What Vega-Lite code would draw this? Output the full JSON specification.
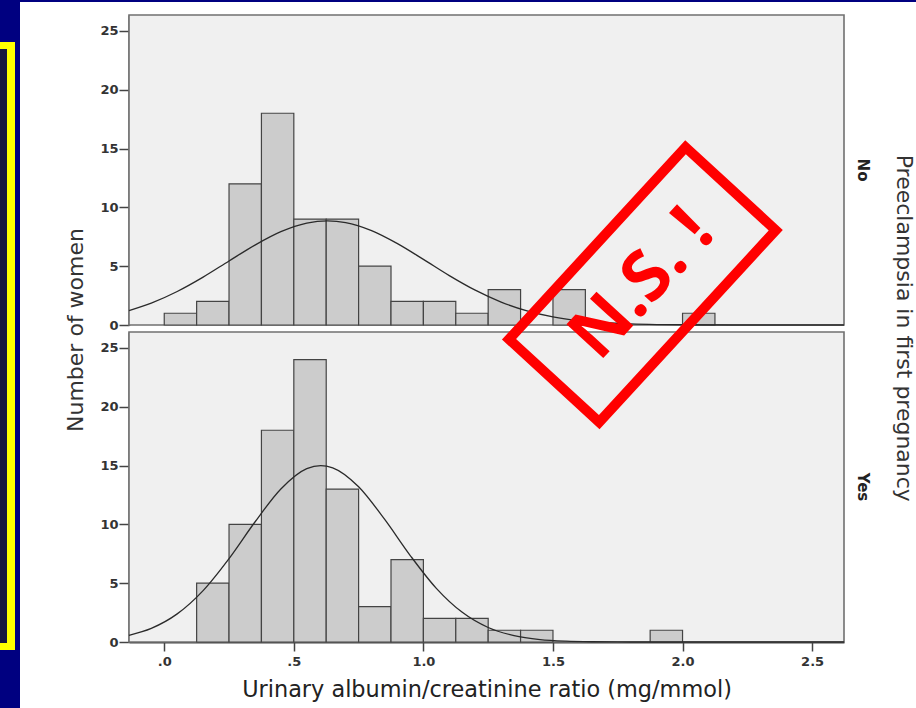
{
  "$schema": "https://vega.github.io/schema/vega-lite/v6.json",
  "padding": 0,
  "background": "#ffffff",
  "config": {
    "view": {"fill": "#f0f0f0", "stroke": "#707070", "strokeWidth": 1.6},
    "concat": {"spacing": 0}
  },
  "datasets": {
    "blank": [],
    "hist": [
      {"panel": "No", "kind": "bar", "x": 0, "x2": 0.125, "y": 1},
      {"panel": "No", "kind": "bar", "x": 0.125, "x2": 0.25, "y": 2},
      {"panel": "No", "kind": "bar", "x": 0.25, "x2": 0.375, "y": 12},
      {"panel": "No", "kind": "bar", "x": 0.375, "x2": 0.5, "y": 18},
      {"panel": "No", "kind": "bar", "x": 0.5, "x2": 0.625, "y": 9},
      {"panel": "No", "kind": "bar", "x": 0.625, "x2": 0.75, "y": 9},
      {"panel": "No", "kind": "bar", "x": 0.75, "x2": 0.875, "y": 5},
      {"panel": "No", "kind": "bar", "x": 0.875, "x2": 1.0, "y": 2},
      {"panel": "No", "kind": "bar", "x": 1.0, "x2": 1.125, "y": 2},
      {"panel": "No", "kind": "bar", "x": 1.125, "x2": 1.25, "y": 1},
      {"panel": "No", "kind": "bar", "x": 1.25, "x2": 1.375, "y": 3},
      {"panel": "No", "kind": "bar", "x": 1.5, "x2": 1.625, "y": 3},
      {"panel": "No", "kind": "bar", "x": 2.0, "x2": 2.125, "y": 1},
      {"panel": "Yes", "kind": "bar", "x": 0.125, "x2": 0.25, "y": 5},
      {"panel": "Yes", "kind": "bar", "x": 0.25, "x2": 0.375, "y": 10},
      {"panel": "Yes", "kind": "bar", "x": 0.375, "x2": 0.5, "y": 18},
      {"panel": "Yes", "kind": "bar", "x": 0.5, "x2": 0.625, "y": 24},
      {"panel": "Yes", "kind": "bar", "x": 0.625, "x2": 0.75, "y": 13},
      {"panel": "Yes", "kind": "bar", "x": 0.75, "x2": 0.875, "y": 3},
      {"panel": "Yes", "kind": "bar", "x": 0.875, "x2": 1.0, "y": 7},
      {"panel": "Yes", "kind": "bar", "x": 1.0, "x2": 1.125, "y": 2},
      {"panel": "Yes", "kind": "bar", "x": 1.125, "x2": 1.25, "y": 2},
      {"panel": "Yes", "kind": "bar", "x": 1.25, "x2": 1.375, "y": 1},
      {"panel": "Yes", "kind": "bar", "x": 1.375, "x2": 1.5, "y": 1},
      {"panel": "Yes", "kind": "bar", "x": 1.875, "x2": 2.0, "y": 1},
      {"panel": "No", "kind": "curve", "x": -0.136, "y": 1.22},
      {"panel": "No", "kind": "curve", "x": -0.05, "y": 1.86},
      {"panel": "No", "kind": "curve", "x": 0.05, "y": 2.85},
      {"panel": "No", "kind": "curve", "x": 0.15, "y": 4.07},
      {"panel": "No", "kind": "curve", "x": 0.25, "y": 5.44},
      {"panel": "No", "kind": "curve", "x": 0.35, "y": 6.79},
      {"panel": "No", "kind": "curve", "x": 0.45, "y": 7.93},
      {"panel": "No", "kind": "curve", "x": 0.55, "y": 8.66},
      {"panel": "No", "kind": "curve", "x": 0.63, "y": 8.85},
      {"panel": "No", "kind": "curve", "x": 0.7, "y": 8.71},
      {"panel": "No", "kind": "curve", "x": 0.8, "y": 8.03},
      {"panel": "No", "kind": "curve", "x": 0.9, "y": 6.92},
      {"panel": "No", "kind": "curve", "x": 1.0, "y": 5.58},
      {"panel": "No", "kind": "curve", "x": 1.1, "y": 4.2},
      {"panel": "No", "kind": "curve", "x": 1.2, "y": 2.96},
      {"panel": "No", "kind": "curve", "x": 1.3, "y": 1.95},
      {"panel": "No", "kind": "curve", "x": 1.4, "y": 1.2},
      {"panel": "No", "kind": "curve", "x": 1.5, "y": 0.69},
      {"panel": "No", "kind": "curve", "x": 1.6, "y": 0.37},
      {"panel": "No", "kind": "curve", "x": 1.7, "y": 0.19},
      {"panel": "No", "kind": "curve", "x": 1.8, "y": 0.09},
      {"panel": "No", "kind": "curve", "x": 1.9, "y": 0.04},
      {"panel": "No", "kind": "curve", "x": 2.0, "y": 0.02},
      {"panel": "No", "kind": "curve", "x": 2.2, "y": 0.0},
      {"panel": "No", "kind": "curve", "x": 2.623, "y": 0.0},
      {"panel": "Yes", "kind": "curve", "x": -0.136, "y": 0.57},
      {"panel": "Yes", "kind": "curve", "x": -0.05, "y": 1.16},
      {"panel": "Yes", "kind": "curve", "x": 0.05, "y": 2.39},
      {"panel": "Yes", "kind": "curve", "x": 0.15, "y": 4.37},
      {"panel": "Yes", "kind": "curve", "x": 0.25, "y": 7.09},
      {"panel": "Yes", "kind": "curve", "x": 0.35, "y": 10.2},
      {"panel": "Yes", "kind": "curve", "x": 0.45, "y": 13.01},
      {"panel": "Yes", "kind": "curve", "x": 0.55, "y": 14.74},
      {"panel": "Yes", "kind": "curve", "x": 0.604, "y": 15.0},
      {"panel": "Yes", "kind": "curve", "x": 0.65, "y": 14.81},
      {"panel": "Yes", "kind": "curve", "x": 0.75, "y": 13.2},
      {"panel": "Yes", "kind": "curve", "x": 0.85, "y": 10.44},
      {"panel": "Yes", "kind": "curve", "x": 0.95, "y": 7.33},
      {"panel": "Yes", "kind": "curve", "x": 1.05, "y": 4.56},
      {"panel": "Yes", "kind": "curve", "x": 1.15, "y": 2.52},
      {"panel": "Yes", "kind": "curve", "x": 1.25, "y": 1.23},
      {"panel": "Yes", "kind": "curve", "x": 1.35, "y": 0.54},
      {"panel": "Yes", "kind": "curve", "x": 1.45, "y": 0.21},
      {"panel": "Yes", "kind": "curve", "x": 1.55, "y": 0.07},
      {"panel": "Yes", "kind": "curve", "x": 1.65, "y": 0.02},
      {"panel": "Yes", "kind": "curve", "x": 1.8, "y": 0.0},
      {"panel": "Yes", "kind": "curve", "x": 2.623, "y": 0.0},
      {"panel": "Yes", "kind": "stamp", "x": 1.845, "y": 30.37, "label": "N.S. !"}
    ]
  },
  "vconcat": [
    {"width": 916, "height": 2, "data": {"name": "blank"}, "mark": "point", "view": {"fill": "#000080", "stroke": null}},
    {
      "hconcat": [
        {
          "vconcat": [
            {"width": 20, "height": 40, "data": {"name": "blank"}, "mark": "point", "view": {"fill": "#000080", "stroke": null}},
            {"hconcat": [
              {"width": 15, "height": 7, "data": {"name": "blank"}, "mark": "point", "view": {"fill": "#ffff00", "stroke": null}},
              {"width": 5, "height": 7, "data": {"name": "blank"}, "mark": "point", "view": {"fill": "#000080", "stroke": null}}
            ], "spacing": 0},
            {"hconcat": [
              {"width": 7, "height": 594, "data": {"name": "blank"}, "mark": "point", "view": {"fill": "#16163e", "stroke": null}},
              {"width": 8, "height": 594, "data": {"name": "blank"}, "mark": "point", "view": {"fill": "#ffff00", "stroke": null}},
              {"width": 5, "height": 594, "data": {"name": "blank"}, "mark": "point", "view": {"fill": "#000080", "stroke": null}}
            ], "spacing": 0},
            {"hconcat": [
              {"width": 15, "height": 7, "data": {"name": "blank"}, "mark": "point", "view": {"fill": "#ffff00", "stroke": null}},
              {"width": 5, "height": 7, "data": {"name": "blank"}, "mark": "point", "view": {"fill": "#000080", "stroke": null}}
            ], "spacing": 0},
            {"width": 20, "height": 58, "data": {"name": "blank"}, "mark": "point", "view": {"fill": "#000080", "stroke": null}}
          ],
          "spacing": 0
        },
        {
          "vconcat": [
            {"width": 1, "height": 12, "data": {"name": "blank"}, "mark": "point", "view": {"fill": null, "stroke": null}},
            {
              "data": {"name": "hist"},
              "bounds": "flush",
              "title": {"text": "Preeclampsia in first pregnancy", "orient": "right", "anchor": "middle", "font": "DejaVu Sans", "fontSize": 22, "fontWeight": "normal", "color": "#333333", "offset": 22, "dx": -29},
              "facet": {
                "row": {
                  "field": "panel", "type": "nominal", "sort": ["No", "Yes"],
                  "header": {
                    "labelOrient": "right", "labelAngle": 90, "labelFont": "DejaVu Sans", "labelFontWeight": "bold", "labelFontSize": 15, "labelColor": "#222222", "labelPadding": 11,
                    "title": "Number of women", "titleOrient": "left", "titleAngle": 270, "titleFont": "DejaVu Sans", "titleFontSize": 22, "titleFontWeight": "normal", "titleColor": "#333333", "titlePadding": -21
                  }
                }
              },
              "spacing": {"row": 7},
              "spec": {
                "width": 715,
                "height": 310,
                "encoding": {
                  "x": {
                    "field": "x", "type": "quantitative",
                    "scale": {"domain": [-0.136, 2.623], "nice": false, "zero": false},
                    "axis": {
                      "title": "Urinary albumin/creatinine ratio (mg/mmol)", "values": [0, 0.5, 1, 1.5, 2, 2.5],
                      "labelExpr": "datum.value < 1 ? slice(format(datum.value, '.1f'), 1) : format(datum.value, '.1f')",
                      "grid": false, "domainColor": "#444444", "domainWidth": 2, "tickColor": "#444444", "tickWidth": 1.5, "tickSize": 9,
                      "labelFont": "DejaVu Sans", "labelFontWeight": "bold", "labelFontSize": 13, "labelColor": "#333333", "labelPadding": 4,
                      "titleFont": "DejaVu Sans", "titleFontSize": 22.4, "titleFontWeight": "normal", "titleColor": "#222222", "titlePadding": 10
                    }
                  },
                  "y": {
                    "field": "y", "type": "quantitative",
                    "scale": {"domain": [0, 26.35], "nice": false},
                    "axis": {
                      "title": null, "values": [0, 5, 10, 15, 20, 25], "grid": false,
                      "domainColor": "#444444", "domainWidth": 2, "tickColor": "#444444", "tickWidth": 1.5, "tickSize": 10,
                      "labelFont": "DejaVu Sans", "labelFontWeight": "bold", "labelFontSize": 13, "labelColor": "#333333", "labelPadding": 1
                    }
                  }
                },
                "layer": [
                  {"transform": [{"filter": "datum.kind === 'bar'"}], "mark": {"type": "rect", "fill": "#cccccc", "stroke": "#444444", "strokeWidth": 1.2}, "encoding": {"x2": {"field": "x2"}, "y2": {"datum": 0}}},
                  {"transform": [{"filter": "datum.kind === 'curve'"}], "mark": {"type": "line", "interpolate": "monotone", "color": "#2a2a2a", "strokeWidth": 1.3}},
                  {"transform": [{"filter": "datum.kind === 'stamp'"}], "mark": {"type": "point", "shape": "M-1,-0.47H1V0.47H-1Z", "size": 68000, "angle": 312.6, "filled": false, "stroke": "#ff0000", "strokeWidth": 10, "opacity": 1, "strokeJoin": "miter"}},
                  {"transform": [{"filter": "datum.kind === 'stamp'"}], "mark": {"type": "text", "font": "Open Sans", "fontSize": 70, "fontWeight": "bold", "color": "#ff0000", "angle": 312.6, "align": "center", "baseline": "middle"}, "encoding": {"text": {"field": "label"}}}
                ]
              }
            }
          ],
          "spacing": 0
        }
      ],
      "spacing": 44
    }
  ],
  "spacing": 0
}
